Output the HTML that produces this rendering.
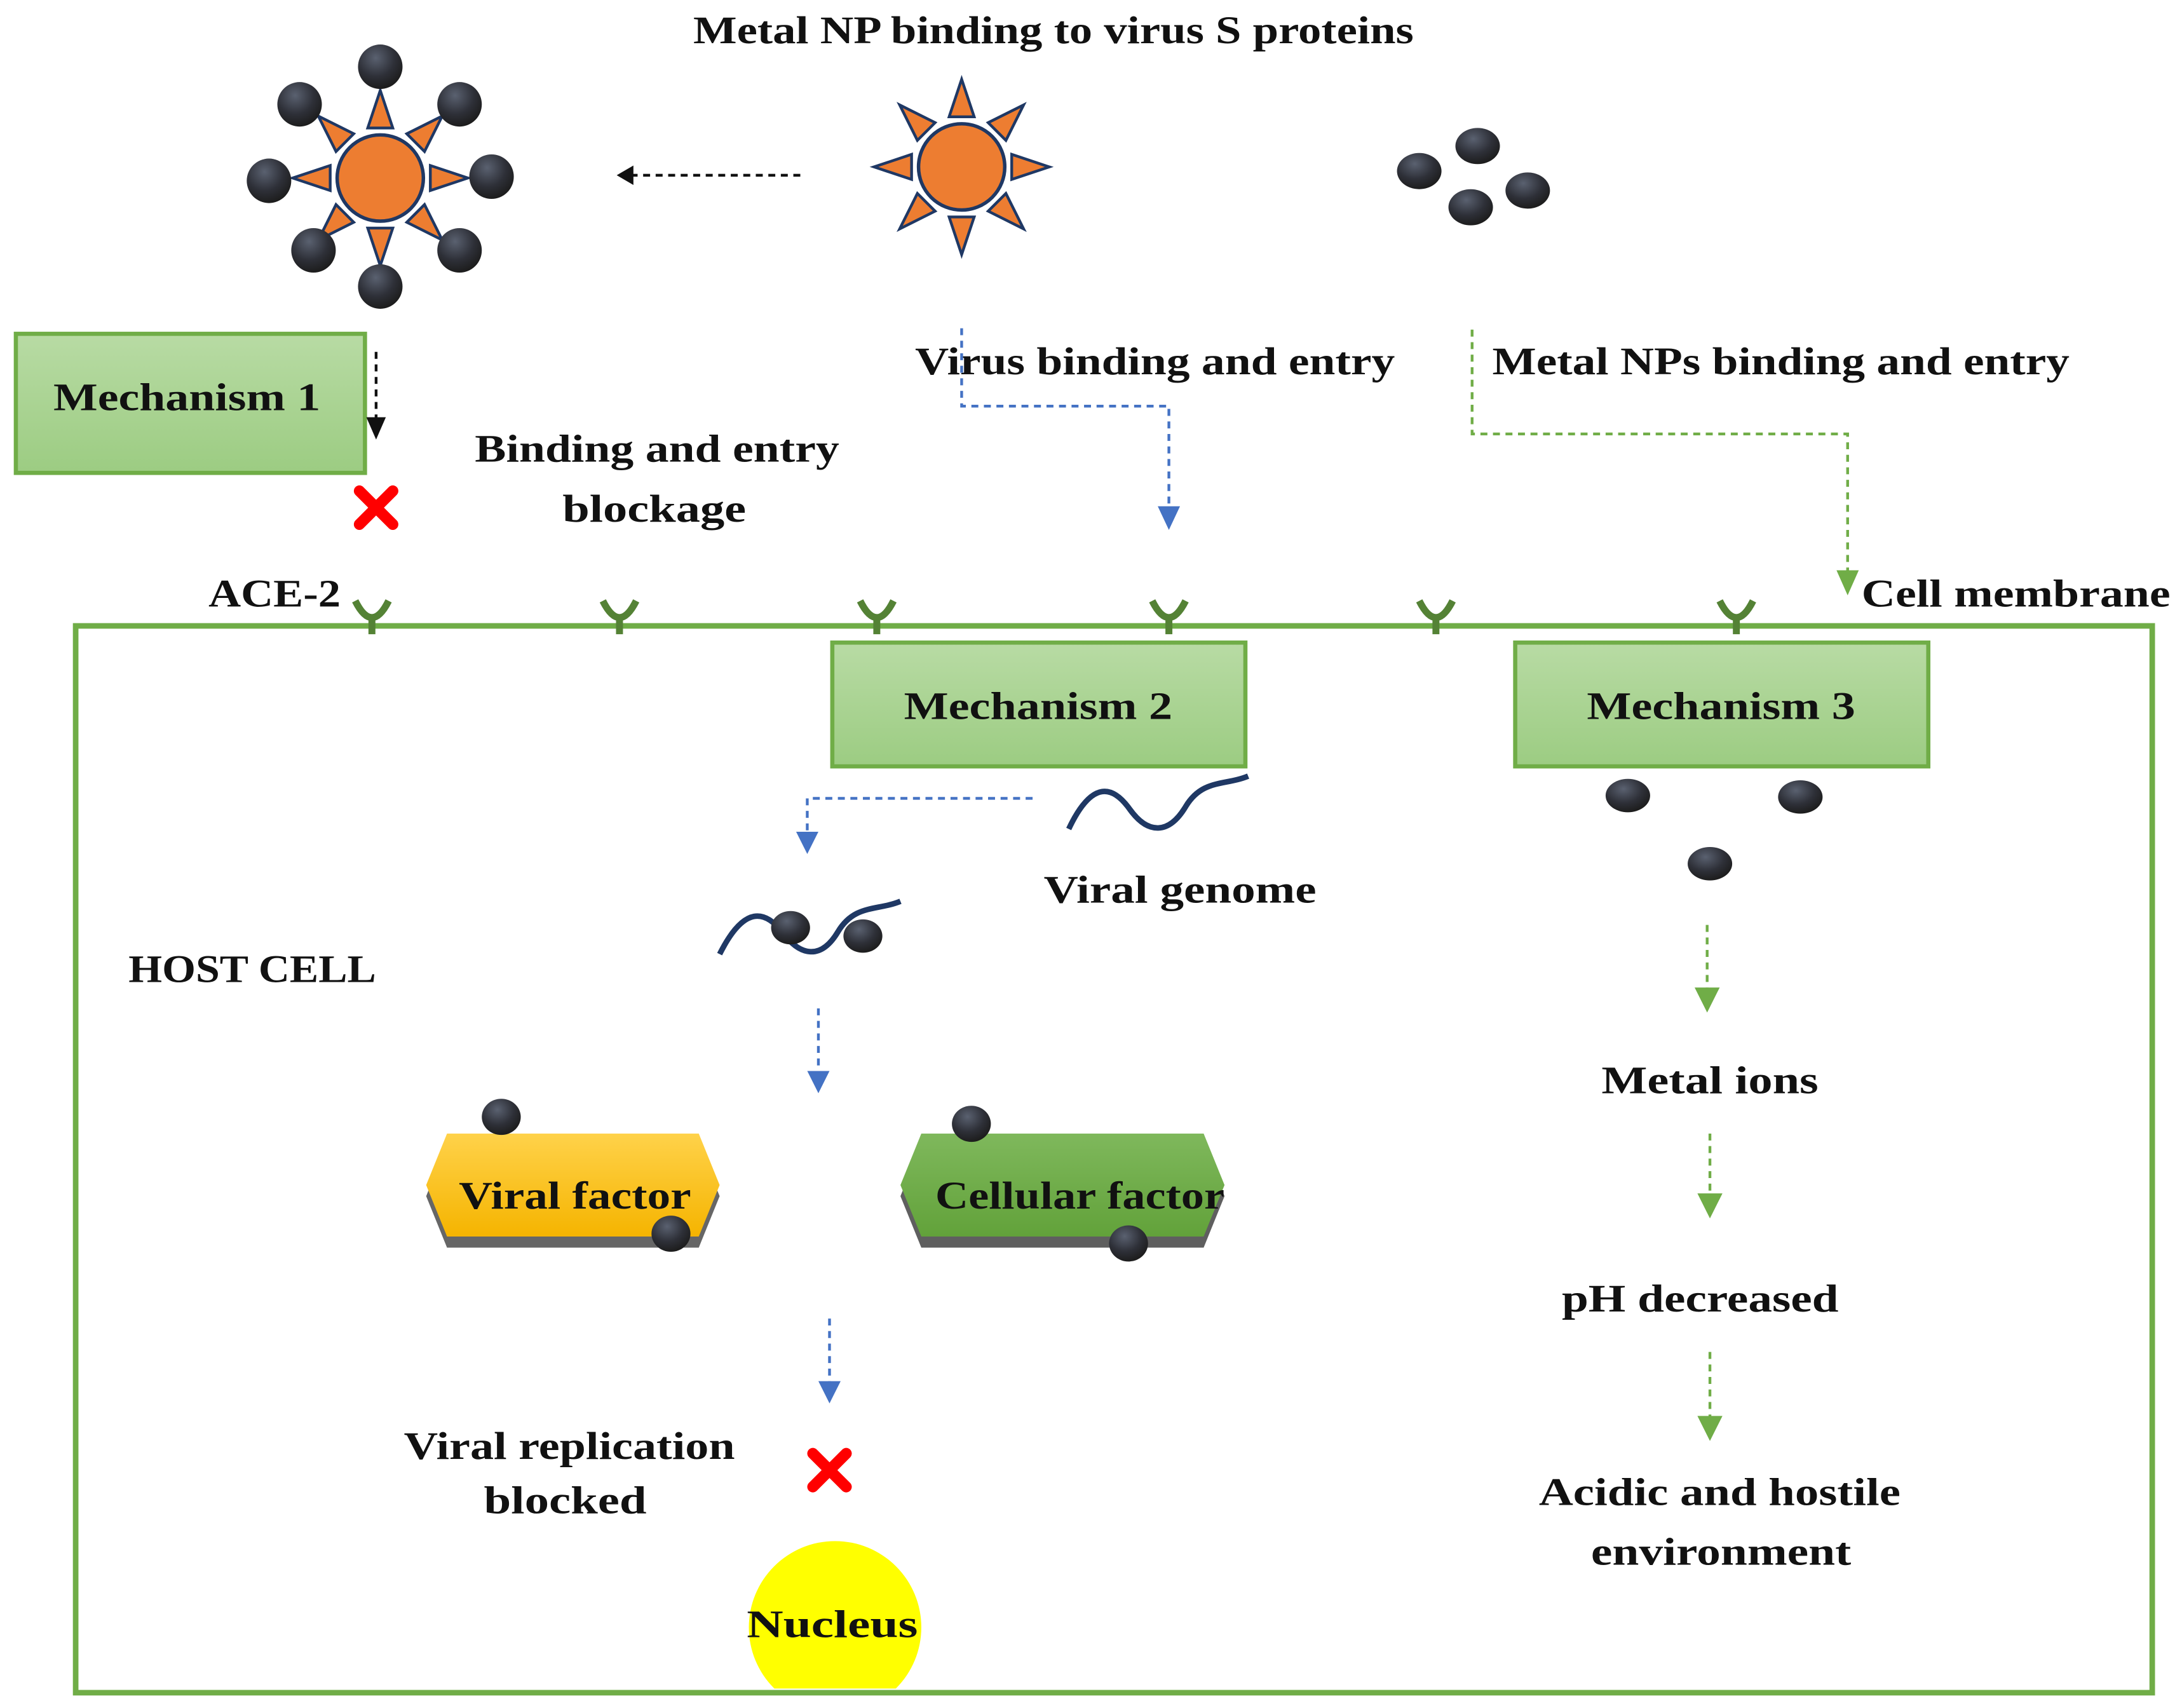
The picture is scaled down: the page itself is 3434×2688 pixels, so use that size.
<!DOCTYPE html>
<html><head><meta charset="utf-8"><style>
html,body{margin:0;padding:0;background:#fff}
svg{display:block}
text{font-family:"Liberation Serif",serif;font-weight:bold;fill:#111;font-size:28px;text-anchor:middle}
</style></head><body>
<svg width="3434" height="2688" viewBox="0 0 1568 1228" xmlns="http://www.w3.org/2000/svg">
<defs>
<radialGradient id="dot" cx="40%" cy="30%" r="70%"><stop offset="0" stop-color="#5a6170"/><stop offset="0.6" stop-color="#2e3038"/><stop offset="1" stop-color="#1d1d1d"/></radialGradient>
<linearGradient id="mech" x1="0" y1="0" x2="0" y2="1"><stop offset="0" stop-color="#b8dba4"/><stop offset="1" stop-color="#9ccc82"/></linearGradient>
<linearGradient id="yel" x1="0" y1="0" x2="0" y2="1"><stop offset="0" stop-color="#ffd24a"/><stop offset="1" stop-color="#f5b400"/></linearGradient>
<linearGradient id="grn" x1="0" y1="0" x2="0" y2="1"><stop offset="0" stop-color="#7fb85c"/><stop offset="1" stop-color="#62a23a"/></linearGradient>
<clipPath id="nc"><rect x="500" y="1090" width="200" height="124"/></clipPath>
<g id="virus">
 <circle r="31" fill="#ED7D31" stroke="#1F3864" stroke-width="2.5"/>
 <g fill="#ED7D31" stroke="#1F3864" stroke-width="2">
  <path d="M-9,-36 L9,-36 L0,-63 z"/>
  <path d="M-9,-36 L9,-36 L0,-63 z" transform="rotate(45)"/>
  <path d="M-9,-36 L9,-36 L0,-63 z" transform="rotate(90)"/>
  <path d="M-9,-36 L9,-36 L0,-63 z" transform="rotate(135)"/>
  <path d="M-9,-36 L9,-36 L0,-63 z" transform="rotate(180)"/>
  <path d="M-9,-36 L9,-36 L0,-63 z" transform="rotate(225)"/>
  <path d="M-9,-36 L9,-36 L0,-63 z" transform="rotate(270)"/>
  <path d="M-9,-36 L9,-36 L0,-63 z" transform="rotate(315)"/>
 </g>
</g>
<g id="rec"><path d="M-12,-10 Q-6,2 0,2 Q6,2 12,-10" fill="none" stroke="#548235" stroke-width="5"/><line x1="0" y1="0" x2="0" y2="14" stroke="#548235" stroke-width="5"/></g>
<g id="xx"><path d="M-12,-12 L12,12 M12,-12 L-12,12" stroke="#f00" stroke-width="8" stroke-linecap="round"/></g>
</defs>

<text x="757" y="31" textLength="518" lengthAdjust="spacingAndGlyphs">Metal NP binding to virus S proteins</text>

<use href="#virus" x="273" y="128"/>
<g fill="url(#dot)">
<circle cx="273" cy="48" r="16"/><circle cx="330" cy="75" r="16"/><circle cx="353" cy="127" r="16"/><circle cx="330" cy="180" r="16"/>
<circle cx="273" cy="206" r="16"/><circle cx="225" cy="180" r="16"/><circle cx="193" cy="130" r="16"/><circle cx="215" cy="75" r="16"/>
</g>
<use href="#virus" x="691" y="120"/>
<line x1="575" y1="126" x2="452" y2="126" stroke="#111" stroke-width="2" stroke-dasharray="5,4"/>
<path d="M443,126 L455,119 L455,133 z" fill="#111"/>
<g fill="url(#dot)">
<ellipse cx="1020" cy="123" rx="16" ry="13"/><ellipse cx="1062" cy="105" rx="16" ry="13"/><ellipse cx="1098" cy="137" rx="16" ry="13"/><ellipse cx="1057" cy="149" rx="16" ry="13"/>
</g>

<rect x="11" y="240" width="251" height="100" fill="url(#mech)" stroke="#70AD47" stroke-width="3"/>
<text x="134" y="295" textLength="192" lengthAdjust="spacingAndGlyphs">Mechanism 1</text>
<line x1="270" y1="253" x2="270" y2="305" stroke="#111" stroke-width="2" stroke-dasharray="5,4"/>
<path d="M263,300 L277,300 L270,316 z" fill="#111"/>
<use href="#xx" x="270" y="365"/>
<text x="472" y="332" textLength="262" lengthAdjust="spacingAndGlyphs">Binding and entry</text>
<text x="470" y="375" textLength="132" lengthAdjust="spacingAndGlyphs">blockage</text>

<text x="830" y="269" textLength="345" lengthAdjust="spacingAndGlyphs">Virus binding and entry</text>
<path d="M691,236 L691,292 L840,292 L840,368" fill="none" stroke="#4472C4" stroke-width="2" stroke-dasharray="5,4"/>
<path d="M832,364 L848,364 L840,381 z" fill="#4472C4"/>

<text x="1280" y="269" textLength="415" lengthAdjust="spacingAndGlyphs">Metal NPs binding and entry</text>
<path d="M1058,237 L1058,312 L1328,312 L1328,414" fill="none" stroke="#70AD47" stroke-width="2" stroke-dasharray="5,4"/>
<path d="M1320,410 L1336,410 L1328,428 z" fill="#70AD47"/>

<text x="197" y="436" textLength="95" lengthAdjust="spacingAndGlyphs">ACE-2</text>
<text x="1449" y="436" textLength="222" lengthAdjust="spacingAndGlyphs">Cell membrane</text>

<rect x="54" y="450" width="1493" height="767" fill="none" stroke="#70AD47" stroke-width="4"/>
<use href="#rec" x="267" y="442"/><use href="#rec" x="445" y="442"/><use href="#rec" x="630" y="442"/>
<use href="#rec" x="840" y="442"/><use href="#rec" x="1032" y="442"/><use href="#rec" x="1248" y="442"/>

<rect x="598" y="462" width="297" height="89" fill="url(#mech)" stroke="#70AD47" stroke-width="3"/>
<text x="746" y="517" textLength="193" lengthAdjust="spacingAndGlyphs">Mechanism 2</text>
<rect x="1089" y="462" width="297" height="89" fill="url(#mech)" stroke="#70AD47" stroke-width="3"/>
<text x="1237" y="517" textLength="193" lengthAdjust="spacingAndGlyphs">Mechanism 3</text>

<path d="M742,574 L580,574 L580,600" fill="none" stroke="#4472C4" stroke-width="2" stroke-dasharray="5,4"/>
<path d="M572,598 L588,598 L580,614 z" fill="#4472C4"/>
<path d="M768,596 C785,560 800,565 812,582 C825,600 840,600 852,580 C864,560 880,565 897,558" fill="none" stroke="#1F3864" stroke-width="4"/>
<text x="848" y="649" textLength="196" lengthAdjust="spacingAndGlyphs">Viral genome</text>

<path d="M517,686 C535,650 550,655 562,670 C575,688 590,690 602,670 C614,650 630,655 647,648" fill="none" stroke="#1F3864" stroke-width="4"/>
<g fill="url(#dot)"><ellipse cx="568" cy="667" rx="14" ry="12"/><ellipse cx="620" cy="673" rx="14" ry="12"/></g>

<text x="181" y="706" textLength="178" lengthAdjust="spacingAndGlyphs">HOST CELL</text>

<line x1="588" y1="725" x2="588" y2="772" stroke="#4472C4" stroke-width="2" stroke-dasharray="5,4"/>
<path d="M580,770 L596,770 L588,786 z" fill="#4472C4"/>

<path d="M321,823 L502,823 L517,860 L502,897 L321,897 L306,860 z" fill="#666"/>
<path d="M321,815 L502,815 L517,852 L502,889 L321,889 L306,852 z" fill="url(#yel)"/>
<text x="413" y="869" textLength="167" lengthAdjust="spacingAndGlyphs">Viral factor</text>
<g fill="url(#dot)"><ellipse cx="360" cy="803" rx="14" ry="13"/><ellipse cx="482" cy="887" rx="14" ry="13"/></g>

<path d="M662,823 L865,823 L880,860 L865,897 L662,897 L647,860 z" fill="#5f5f5f"/>
<path d="M662,815 L865,815 L880,852 L865,889 L662,889 L647,852 z" fill="url(#grn)"/>
<text x="776" y="869" textLength="208" lengthAdjust="spacingAndGlyphs">Cellular factor</text>
<g fill="url(#dot)"><ellipse cx="698" cy="808" rx="14" ry="13"/><ellipse cx="811" cy="894" rx="14" ry="13"/></g>

<line x1="596" y1="948" x2="596" y2="995" stroke="#4472C4" stroke-width="2" stroke-dasharray="5,4"/>
<path d="M588,993 L604,993 L596,1009 z" fill="#4472C4"/>
<text x="409" y="1049" textLength="238" lengthAdjust="spacingAndGlyphs">Viral replication</text>
<text x="406" y="1088" textLength="117" lengthAdjust="spacingAndGlyphs">blocked</text>
<use href="#xx" x="596" y="1057"/>

<circle cx="600" cy="1170" r="62" fill="#FFFF00" clip-path="url(#nc)"/>
<text x="598" y="1177" textLength="123" lengthAdjust="spacingAndGlyphs">Nucleus</text>

<g fill="url(#dot)"><ellipse cx="1170" cy="572" rx="16" ry="12"/><ellipse cx="1294" cy="573" rx="16" ry="12"/><ellipse cx="1229" cy="621" rx="16" ry="12"/></g>
<g stroke="#70AD47" stroke-width="2" stroke-dasharray="5,4">
<line x1="1227" y1="665" x2="1227" y2="714"/><line x1="1229" y1="815" x2="1229" y2="862"/><line x1="1229" y1="972" x2="1229" y2="1022"/>
</g>
<g fill="#70AD47">
<path d="M1218,710 L1236,710 L1227,728 z"/><path d="M1220,858 L1238,858 L1229,876 z"/><path d="M1220,1018 L1238,1018 L1229,1036 z"/>
</g>
<text x="1229" y="786" textLength="156" lengthAdjust="spacingAndGlyphs">Metal ions</text>
<text x="1222" y="943" textLength="199" lengthAdjust="spacingAndGlyphs">pH decreased</text>
<text x="1236" y="1082" textLength="260" lengthAdjust="spacingAndGlyphs">Acidic and hostile</text>
<text x="1237" y="1125" textLength="187" lengthAdjust="spacingAndGlyphs">environment</text>
</svg>
</body></html>
